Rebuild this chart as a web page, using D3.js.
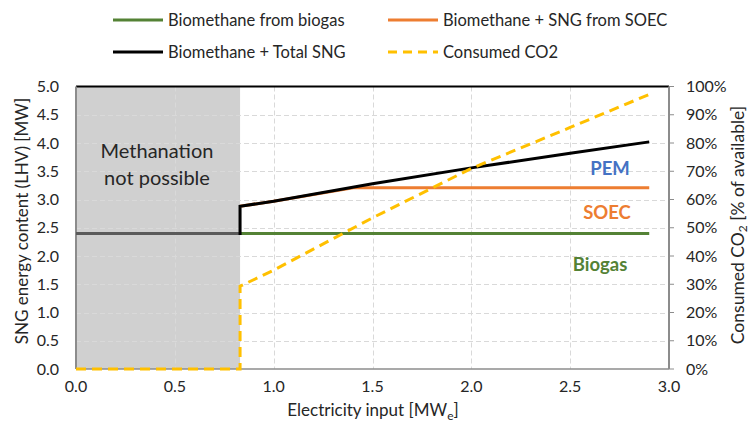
<!DOCTYPE html>
<html><head><meta charset="utf-8">
<script src="https://cdn.jsdelivr.net/npm/d3@7"></script>
<style>body{margin:0;background:#fff}svg{display:block;font-family:Lato,'Open Sans',sans-serif}</style>
</head><body><svg id="c" width="751" height="432"></svg>
<script>
// Data
const xTicks = [0, 0.5, 1.0, 1.5, 2.0, 2.5, 3.0];
const yTicks = [0, 0.5, 1.0, 1.5, 2.0, 2.5, 3.0, 3.5, 4.0, 4.5, 5.0];
const y2Ticks = [0, 10, 20, 30, 40, 50, 60, 70, 80, 90, 100];
const biogasX = [0, 2.9];
const biogasY = [2.4, 2.4];
const soecX = [0.83, 1.0, 1.41, 2.9];
const soecY = [2.88, 2.97, 3.21, 3.21];
const totalX = [0, 0.83, 0.83, 1.0, 1.5, 2.0, 2.5, 2.9];
const totalY = [2.4, 2.4, 2.88, 2.97, 3.28, 3.56, 3.82, 4.02];
const co2X = [0, 0.83, 0.83, 1.0, 1.5, 2.0, 2.5, 2.9];
const co2Y = [0, 0, 29.3, 35, 53.5, 71, 85.5, 97.2];
const noMethanationLimit = 0.83;
const legendItems = ["Biomethane from biogas", "Biomethane + SNG from SOEC", "Biomethane + Total SNG", "Consumed CO2"];

const svg = d3.select("#c");
const L = 76, R = 669, T = 86.5, B = 369;
const x = d3.scaleLinear().domain([0, 3]).range([L, R]);
const y = d3.scaleLinear().domain([0, 5]).range([B, T]);
const y2 = d3.scaleLinear().domain([0, 100]).range([B, T]);

// shaded region
svg.append("rect").attr("x", x(0)).attr("y", y(5)).attr("width", x(noMethanationLimit) - x(0)).attr("height", y(0) - y(5)).attr("fill", "#d0d0d0");

// grid
const grid = svg.append("g").attr("stroke", "#d9d9d9").attr("stroke-width", 1).attr("stroke-dasharray", "5,3");
xTicks.filter(t => t > 0 && t < 3).forEach(t => grid.append("line").attr("x1", Math.round(x(t)) + 0.5).attr("x2", Math.round(x(t)) + 0.5).attr("y1", T).attr("y2", B));
yTicks.filter(t => t > 0 && t < 5).forEach(t => grid.append("line").attr("x1", L).attr("x2", R).attr("y1", Math.round(y(t)) + 0.5).attr("y2", Math.round(y(t)) + 0.5));

// axes lines
svg.append("line").attr("x1", L).attr("x2", R).attr("y1", T).attr("y2", T).attr("stroke", "#000").attr("stroke-width", 2);
svg.append("line").attr("x1", L).attr("x2", L).attr("y1", T).attr("y2", B).attr("stroke", "#8c8c8c").attr("stroke-width", 2);
svg.append("line").attr("x1", L).attr("x2", R).attr("y1", B).attr("y2", B).attr("stroke", "#8c8c8c").attr("stroke-width", 1.5);

const line = d3.line();
const mk = (xs, ys, ys2) => xs.map((v, i) => [x(v), ys2 ? y2(ys[i]) : y(ys[i])]);

svg.append("path").attr("d", line(mk(biogasX, biogasY))).attr("fill", "none").attr("stroke", "#548235").attr("stroke-width", 3);
svg.append("path").attr("d", line(mk(soecX, soecY))).attr("fill", "none").attr("stroke", "#ed7d31").attr("stroke-width", 3);
svg.append("path").attr("d", line(mk(totalX, totalY))).attr("fill", "none").attr("stroke", "#000").attr("stroke-width", 3).attr("stroke-linejoin", "miter");
// greyed part in shaded area
svg.append("clipPath").attr("id", "shade").append("rect").attr("x", x(0)).attr("y", T).attr("width", x(noMethanationLimit) - x(0) - 1.5).attr("height", B - T);
svg.append("path").attr("d", line(mk(totalX, totalY))).attr("fill", "none").attr("stroke", "#5a5a5a").attr("stroke-width", 3).attr("clip-path", "url(#shade)");

svg.append("path").attr("d", line(mk(co2X, co2Y, true))).attr("fill", "none").attr("stroke", "#ffc000").attr("stroke-width", 3).attr("stroke-dasharray", "10,6");

// right axis
svg.append("line").attr("x1", R).attr("x2", R).attr("y1", T).attr("y2", B).attr("stroke", "#8c8c8c").attr("stroke-width", 2);
const ra = svg.append("g").attr("font-size", 16).attr("fill", "#262626");
y2Ticks.forEach(t => {
  svg.append("line").attr("x1", R).attr("x2", R + 5).attr("y1", y2(t)).attr("y2", y2(t)).attr("stroke", "#8c8c8c").attr("stroke-width", 1);
  ra.append("text").attr("x", 686).attr("y", y2(t)).attr("dy", "0.35em").text(t + "%");
});
// left axis labels
const la = svg.append("g").attr("font-size", 16).attr("fill", "#262626").attr("text-anchor", "end");
yTicks.forEach(t => la.append("text").attr("x", 59).attr("y", y(t)).attr("dy", "0.35em").text(d3.format(".1f")(t)));
// x axis labels
const xa = svg.append("g").attr("font-size", 16).attr("fill", "#262626").attr("text-anchor", "middle");
xTicks.forEach(t => xa.append("text").attr("x", x(t)).attr("y", 386).attr("dy", "0.35em").text(d3.format(".1f")(t)));

// axis titles
svg.append("text").attr("x", 373).attr("y", 416).attr("text-anchor", "middle").attr("font-size", 17).attr("fill", "#262626")
  .html('Electricity input [MW<tspan font-size="12" dy="4">e</tspan><tspan dy="-4">]</tspan>');
svg.append("text").attr("transform", "translate(28,221) rotate(-90)").attr("text-anchor", "middle").attr("font-size", 17).attr("fill", "#262626")
  .text("SNG energy content (LHV) [MW]");
svg.append("text").attr("transform", "translate(744,225) rotate(-90)").attr("text-anchor", "middle").attr("font-size", 17.5).attr("fill", "#262626")
  .html('Consumed CO<tspan font-size="12" dy="3">2</tspan><tspan dy="-3"> [% of available]</tspan>');

// annotations
svg.append("text").attr("x", 157).attr("y", 158).attr("text-anchor", "middle").attr("font-size", 20).attr("fill", "#262626").text("Methanation");
svg.append("text").attr("x", 157).attr("y", 185).attr("text-anchor", "middle").attr("font-size", 20).attr("fill", "#262626").text("not possible");
svg.append("text").attr("x", 610).attr("y", 175).attr("text-anchor", "middle").attr("font-size", 18.5).attr("font-weight", "bold").attr("fill", "#4472c4").text("PEM");
svg.append("text").attr("x", 607).attr("y", 219).attr("text-anchor", "middle").attr("font-size", 18.5).attr("font-weight", "bold").attr("fill", "#ed7d31").text("SOEC");
svg.append("text").attr("x", 600).attr("y", 271).attr("text-anchor", "middle").attr("font-size", 18.5).attr("font-weight", "bold").attr("fill", "#548235").text("Biogas");

// legend
const lg = [
  {x: 113, y: 20, c: "#548235", d: null},
  {x: 388, y: 20, c: "#ed7d31", d: null},
  {x: 113, y: 52, c: "#000", d: null},
  {x: 388, y: 52, c: "#ffc000", d: "9,6"}
];
lg.forEach((g, i) => {
  svg.append("line").attr("x1", g.x).attr("x2", g.x + 50).attr("y1", g.y).attr("y2", g.y).attr("stroke", g.c).attr("stroke-width", 3).attr("stroke-dasharray", g.d);
  svg.append("text").attr("x", g.x + 55).attr("y", g.y).attr("dy", "0.35em").attr("font-size", 16.5).attr("fill", "#262626").text(legendItems[i]);
});
</script></body></html>
